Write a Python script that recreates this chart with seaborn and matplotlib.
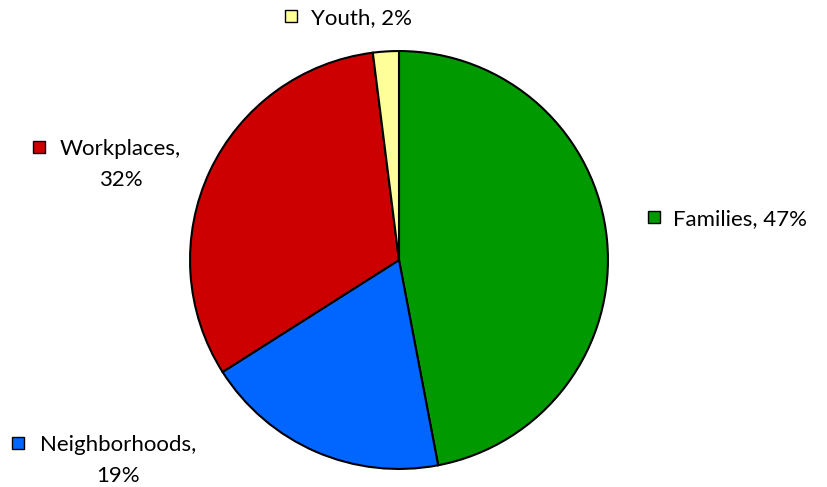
import matplotlib
matplotlib.use("Agg")
import matplotlib.pyplot as plt
import seaborn as sns
from matplotlib.patches import Rectangle

categories = ["Families", "Neighborhoods", "Workplaces", "Youth"]
shares = [47, 19, 32, 2]
colors = ["#009900", "#0066FF", "#CC0000", "#FFFF99"]

sns.set_theme(style="white")
plt.rcParams["font.family"] = ["Lato", "DejaVu Sans"]

W, H = 827, 487
fig = plt.figure(figsize=(W / 100, H / 100), dpi=100)
fig.patch.set_facecolor("white")

cx, cy, r = 399, 260, 210
ax = fig.add_axes([(cx - r) / W, (H - cy - r) / H, 2 * r / W, 2 * r / H])
ax.pie(shares, colors=colors, startangle=90, counterclock=False,
       wedgeprops=dict(edgecolor="black", linewidth=1.5), radius=1)
ax.set_xlim(-1.005, 1.005)
ax.set_ylim(-1.005, 1.005)
ax.set_aspect("equal")
ax.axis("off")

# overlay axes in pixel coordinates for labels
ov = fig.add_axes([0, 0, 1, 1])
ov.set_xlim(0, W)
ov.set_ylim(H, 0)
ov.axis("off")

# label layout: square left x, first-line center y, text left x, wrapped?
layout = {
    "Families": (648, 217, 673, False),
    "Neighborhoods": (12, 443, 40, True),
    "Workplaces": (33, 147, 60, True),
    "Youth": (285, 16, 311, False),
}
fs = 16
gap = 31
fig.canvas.draw()
renderer = fig.canvas.get_renderer()
for cat, val, col in zip(categories, shares, colors):
    sx, sy, tx, wrap = layout[cat]
    s = 12
    ov.add_patch(Rectangle((sx, sy - s / 2), s, s, facecolor=col,
                           edgecolor="black", linewidth=1.0))
    if wrap:
        t1 = ov.text(tx, sy, f"{cat},", ha="left", va="center_baseline",
                     fontsize=fs, color="black")
        bb = t1.get_window_extent(renderer=renderer)
        mid = tx + bb.width / 2
        ov.text(mid, sy + gap, f"{val}%", ha="center", va="center_baseline",
                fontsize=fs, color="black")
    else:
        ov.text(tx, sy, f"{cat}, {val}%", ha="left", va="center_baseline",
                fontsize=fs, color="black")

fig.savefig("out.png", dpi=100, facecolor="white")
